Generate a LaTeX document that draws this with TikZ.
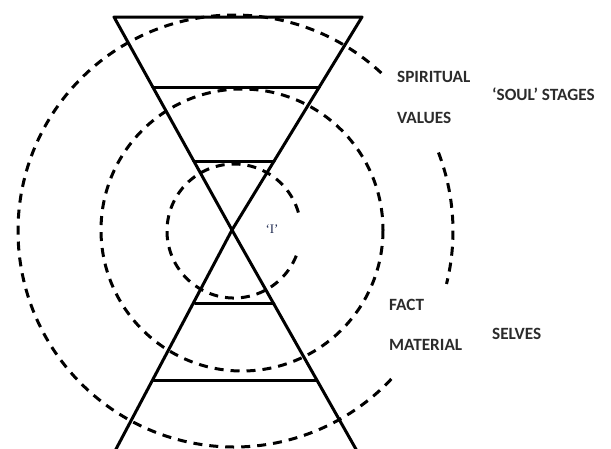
\documentclass[tikz,border=0pt]{standalone}
\usepackage{fontspec}
\setmainfont{Carlito}
\newfontfamily\labelserif{Liberation Serif}
\definecolor{inktext}{HTML}{2B2B2B}
\definecolor{iblue}{HTML}{1F2A50}
\begin{document}
\begin{tikzpicture}[x=1pt,y=-1pt,
  hour/.style={line width=3pt, line cap=round, line join=round},
  ring/.style={line width=3pt, dash pattern=on 9pt off 7pt},
  lbl/.style={font=\fontsize{17.2}{20}\selectfont\bfseries, text=inktext, anchor=west, inner sep=0pt}]
\useasboundingbox (0,0) rectangle (611,448);
% hourglass
\coordinate (c) at (232,230);
\coordinate (tl) at (114,17);
\coordinate (tr) at (362,17);
\coordinate (bl) at (115,451);
\coordinate (br) at (357,451);
\draw[hour] (c) -- (tl) -- (tr) -- cycle;
\draw[hour] (bl) -- (c) -- (br);
\coordinate (b2l) at (152.8,87);  \coordinate (b2r) at (319.3,87);
\coordinate (b3l) at (193.8,161); \coordinate (b3r) at (274.1,161);
\coordinate (b4l) at (195.0,303); \coordinate (b4r) at (273.8,303);
\coordinate (b5l) at (153.7,380); \coordinate (b5r) at (317.0,380);
\draw[hour] (b2l) -- (b2r);
\draw[hour] (b3l) -- (b3r);
\draw[hour] (b4l) -- (b4r);
\draw[hour] (b5l) -- (b5r);
% dashed rings (y axis points down, so angles are mirrored)
\draw[ring] (234,231) ++(-16:67) arc[start angle=-16, end angle=-344, radius=67];
\draw[ring] (242,230) circle[radius=141];
\draw[ring] (234,231) ++(-47:216) arc[start angle=-47, end angle=-318, radius=216];
\draw[ring] (234,231) ++(-21:219) arc[start angle=-21, end angle=14, radius=219];
% labels
\node[lbl] (spiritual) at (397,77) {SPIRITUAL};
\node[lbl] (soul) at (492,94) {‘SOUL’ STAGES};
\node[lbl] (values) at (397,118) {VALUES};
\node[lbl] (fact) at (389,305) {FACT};
\node[lbl] (selves) at (492,334) {SELVES};
\node[lbl] (material) at (389,345) {MATERIAL};
\node[font=\labelserif\fontsize{13}{15}\selectfont, text=iblue, inner sep=0pt] (ego) at (272,229) {‘I’};
\end{tikzpicture}
\end{document}
